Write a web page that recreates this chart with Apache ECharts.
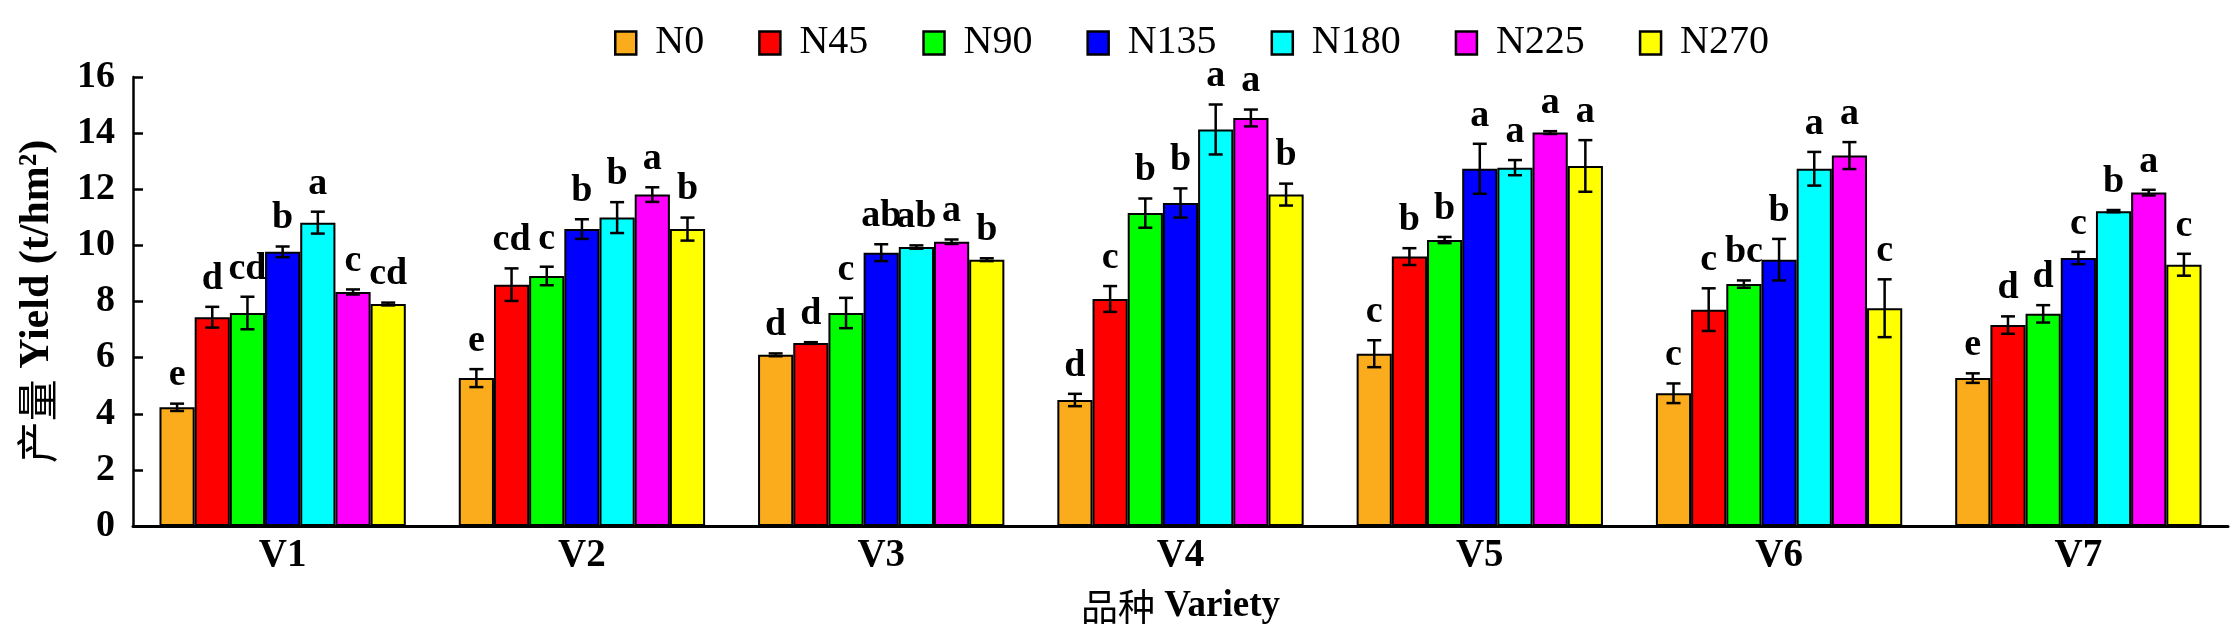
<!DOCTYPE html>
<html>
<head>
<meta charset="utf-8">
<script src="https://cdn.jsdelivr.net/npm/echarts@6/dist/echarts.min.js"></script>
<style>
html,body{margin:0;padding:0;background:#fff;}
#chart{width:2238px;height:644px;}
</style>
</head>
<body>
<div id="chart"></div>
<script>
var categories = ['V1','V2','V3','V4','V5','V6','V7'];
var seriesNames = ['N0','N45','N90','N135','N180','N225','N270'];
var colors = ['#FAAC1C','#FF0000','#00FF00','#0000FF','#00FFFF','#FF00FF','#FFFF00'];

var N0   = [4.23, 5.27, 6.10, 4.49, 6.14, 4.73, 5.27];
var N45  = [7.44, 8.60, 6.52, 8.09, 9.60, 7.71, 7.16];
var N90  = [7.59, 8.91, 7.59, 11.15, 10.19, 8.62, 7.56];
var N135 = [9.77, 10.58, 9.74, 11.51, 12.73, 9.49, 9.55];
var N180 = [10.81, 10.99, 9.94, 14.13, 12.77, 12.73, 11.22];
var N225 = [8.34, 11.81, 10.13, 14.54, 14.02, 13.20, 11.88];
var N270 = [7.91, 10.58, 9.49, 11.81, 12.83, 7.76, 9.31];

var E_N0   = [0.13, 0.32, 0.05, 0.22, 0.48, 0.35, 0.17];
var E_N45  = [0.37, 0.58, 0.03, 0.46, 0.30, 0.76, 0.31];
var E_N90  = [0.58, 0.33, 0.54, 0.52, 0.11, 0.13, 0.31];
var E_N135 = [0.19, 0.35, 0.30, 0.52, 0.89, 0.74, 0.22];
var E_N180 = [0.39, 0.55, 0.06, 0.89, 0.27, 0.60, 0.04];
var E_N225 = [0.09, 0.26, 0.08, 0.30, 0.05, 0.48, 0.10];
var E_N270 = [0.05, 0.41, 0.05, 0.39, 0.92, 1.03, 0.39];

var L_N0   = ['e','e','d','d','c','c','e'];
var L_N45  = ['d','cd','d','c','b','c','d'];
var L_N90  = ['cd','c','c','b','b','bc','d'];
var L_N135 = ['b','b','ab','b','a','b','c'];
var L_N180 = ['a','b','ab','a','a','a','b'];
var L_N225 = ['c','a','a','a','a','a','a'];
var L_N270 = ['cd','b','b','b','a','c','c'];

var values = [N0,N45,N90,N135,N180,N225,N270];
var errors = [E_N0,E_N45,E_N90,E_N135,E_N180,E_N225,E_N270];
var letters = [L_N0,L_N45,L_N90,L_N135,L_N180,L_N225,L_N270];

var FONT = "'Liberation Serif','Times New Roman','Noto Sans CJK SC',serif";
var CJK = "'Noto Sans CJK SC','Liberation Serif',serif";
var CAT_GAP = 0.177;
var nS = seriesNames.length;

var series = [];
for (var s = 0; s < nS; s++) {
  series.push({
    name: seriesNames[s],
    type: 'bar',
    data: values[s],
    barGap: '0%',
    barCategoryGap: (CAT_GAP*100) + '%',
    itemStyle: {color: colors[s], borderColor: '#000', borderWidth: 2},
    emphasis: {disabled: true},
    z: 2
  });
}

var errData = [];
for (var s2 = 0; s2 < nS; s2++) {
  for (var c = 0; c < categories.length; c++) {
    errData.push([c, values[s2][c], errors[s2][c], s2, letters[s2][c]]);
  }
}

series.push({
  type: 'custom',
  name: 'err',
  data: errData,
  z: 5,
  silent: true,
  renderItem: function (params, api) {
    var ci = api.value(0), v = api.value(1), e = api.value(2), si = api.value(3);
    var letter = errData[params.dataIndex][4];
    var band = api.size([1, 0])[0];
    var barW = band * (1 - CAT_GAP) / nS;
    var center = api.coord([ci, v])[0];
    var x = center - nS * barW / 2 + (si + 0.5) * barW;
    var yTop = api.coord([ci, v + e])[1];
    var yBot = api.coord([ci, v - e])[1];
    var cap = 7;
    var ls = {stroke: '#000', lineWidth: 2.5};
    return {
      type: 'group',
      children: [
        {type: 'line', shape: {x1: x, y1: yTop, x2: x, y2: yBot}, style: ls},
        {type: 'line', shape: {x1: x - cap, y1: yTop, x2: x + cap, y2: yTop}, style: ls},
        {type: 'line', shape: {x1: x - cap, y1: yBot, x2: x + cap, y2: yBot}, style: ls},
        {type: 'text', style: {text: letter, x: x, y: yTop - 9, textAlign: 'center', textVerticalAlign: 'bottom',
          font: 'bold 38px ' + FONT, fill: '#000'}}
      ]
    };
  }
});

var chart = echarts.init(document.getElementById('chart'));
chart.setOption({
  backgroundColor: '#fff',
  animation: false,
  legend: {
    data: seriesNames,
    left: 609,
    top: 18,
    itemWidth: 21,
    itemHeight: 23,
    itemGap: 54,
    icon: 'rect',
    itemStyle: {borderColor: '#000', borderWidth: 2.5},
    textStyle: {fontFamily: FONT, fontSize: 40, color: '#000', padding: [0, 0, 0, 14]}
  },
  grid: {left: 133, right: 10, top: 77, bottom: 118, containLabel: false},
  xAxis: {
    type: 'category',
    data: categories,
    axisLine: {lineStyle: {color: '#000', width: 3}},
    axisTick: {inside: true, length: 11, lineStyle: {color: '#000', width: 2.5}},
    axisLabel: {fontFamily: FONT, fontSize: 39, fontWeight: 'bold', color: '#000', margin: 10},
    name: '{cn|品种} {en|Variety}',
    nameLocation: 'middle',
    nameGap: 62,
    nameTextStyle: {fontFamily: FONT, fontSize: 37, color: '#000',
      rich: {
        cn: {fontFamily: CJK, fontSize: 37, fontWeight: 'normal', color: '#000'},
        en: {fontFamily: FONT, fontSize: 37, fontWeight: 'bold', color: '#000'}
      }}
  },
  yAxis: {
    type: 'value',
    min: 0, max: 16, interval: 2,
    splitLine: {show: false},
    axisLine: {show: true, lineStyle: {color: '#000', width: 2.5}},
    axisTick: {show: true, inside: true, length: 10, lineStyle: {color: '#000', width: 2.5}},
    axisLabel: {fontFamily: FONT, fontSize: 38, fontWeight: 'bold', color: '#000', margin: 18},
    name: '{cn|产量} {en|Yield (t/hm²)}',
    nameLocation: 'middle',
    nameGap: 75,
    nameTextStyle: {fontFamily: FONT, fontSize: 42, color: '#000',
      rich: {
        cn: {fontFamily: CJK, fontSize: 42, fontWeight: 'normal', color: '#000'},
        en: {fontFamily: FONT, fontSize: 42, fontWeight: 'bold', color: '#000'}
      }}
  },
  series: series
});
</script>
</body>
</html>
